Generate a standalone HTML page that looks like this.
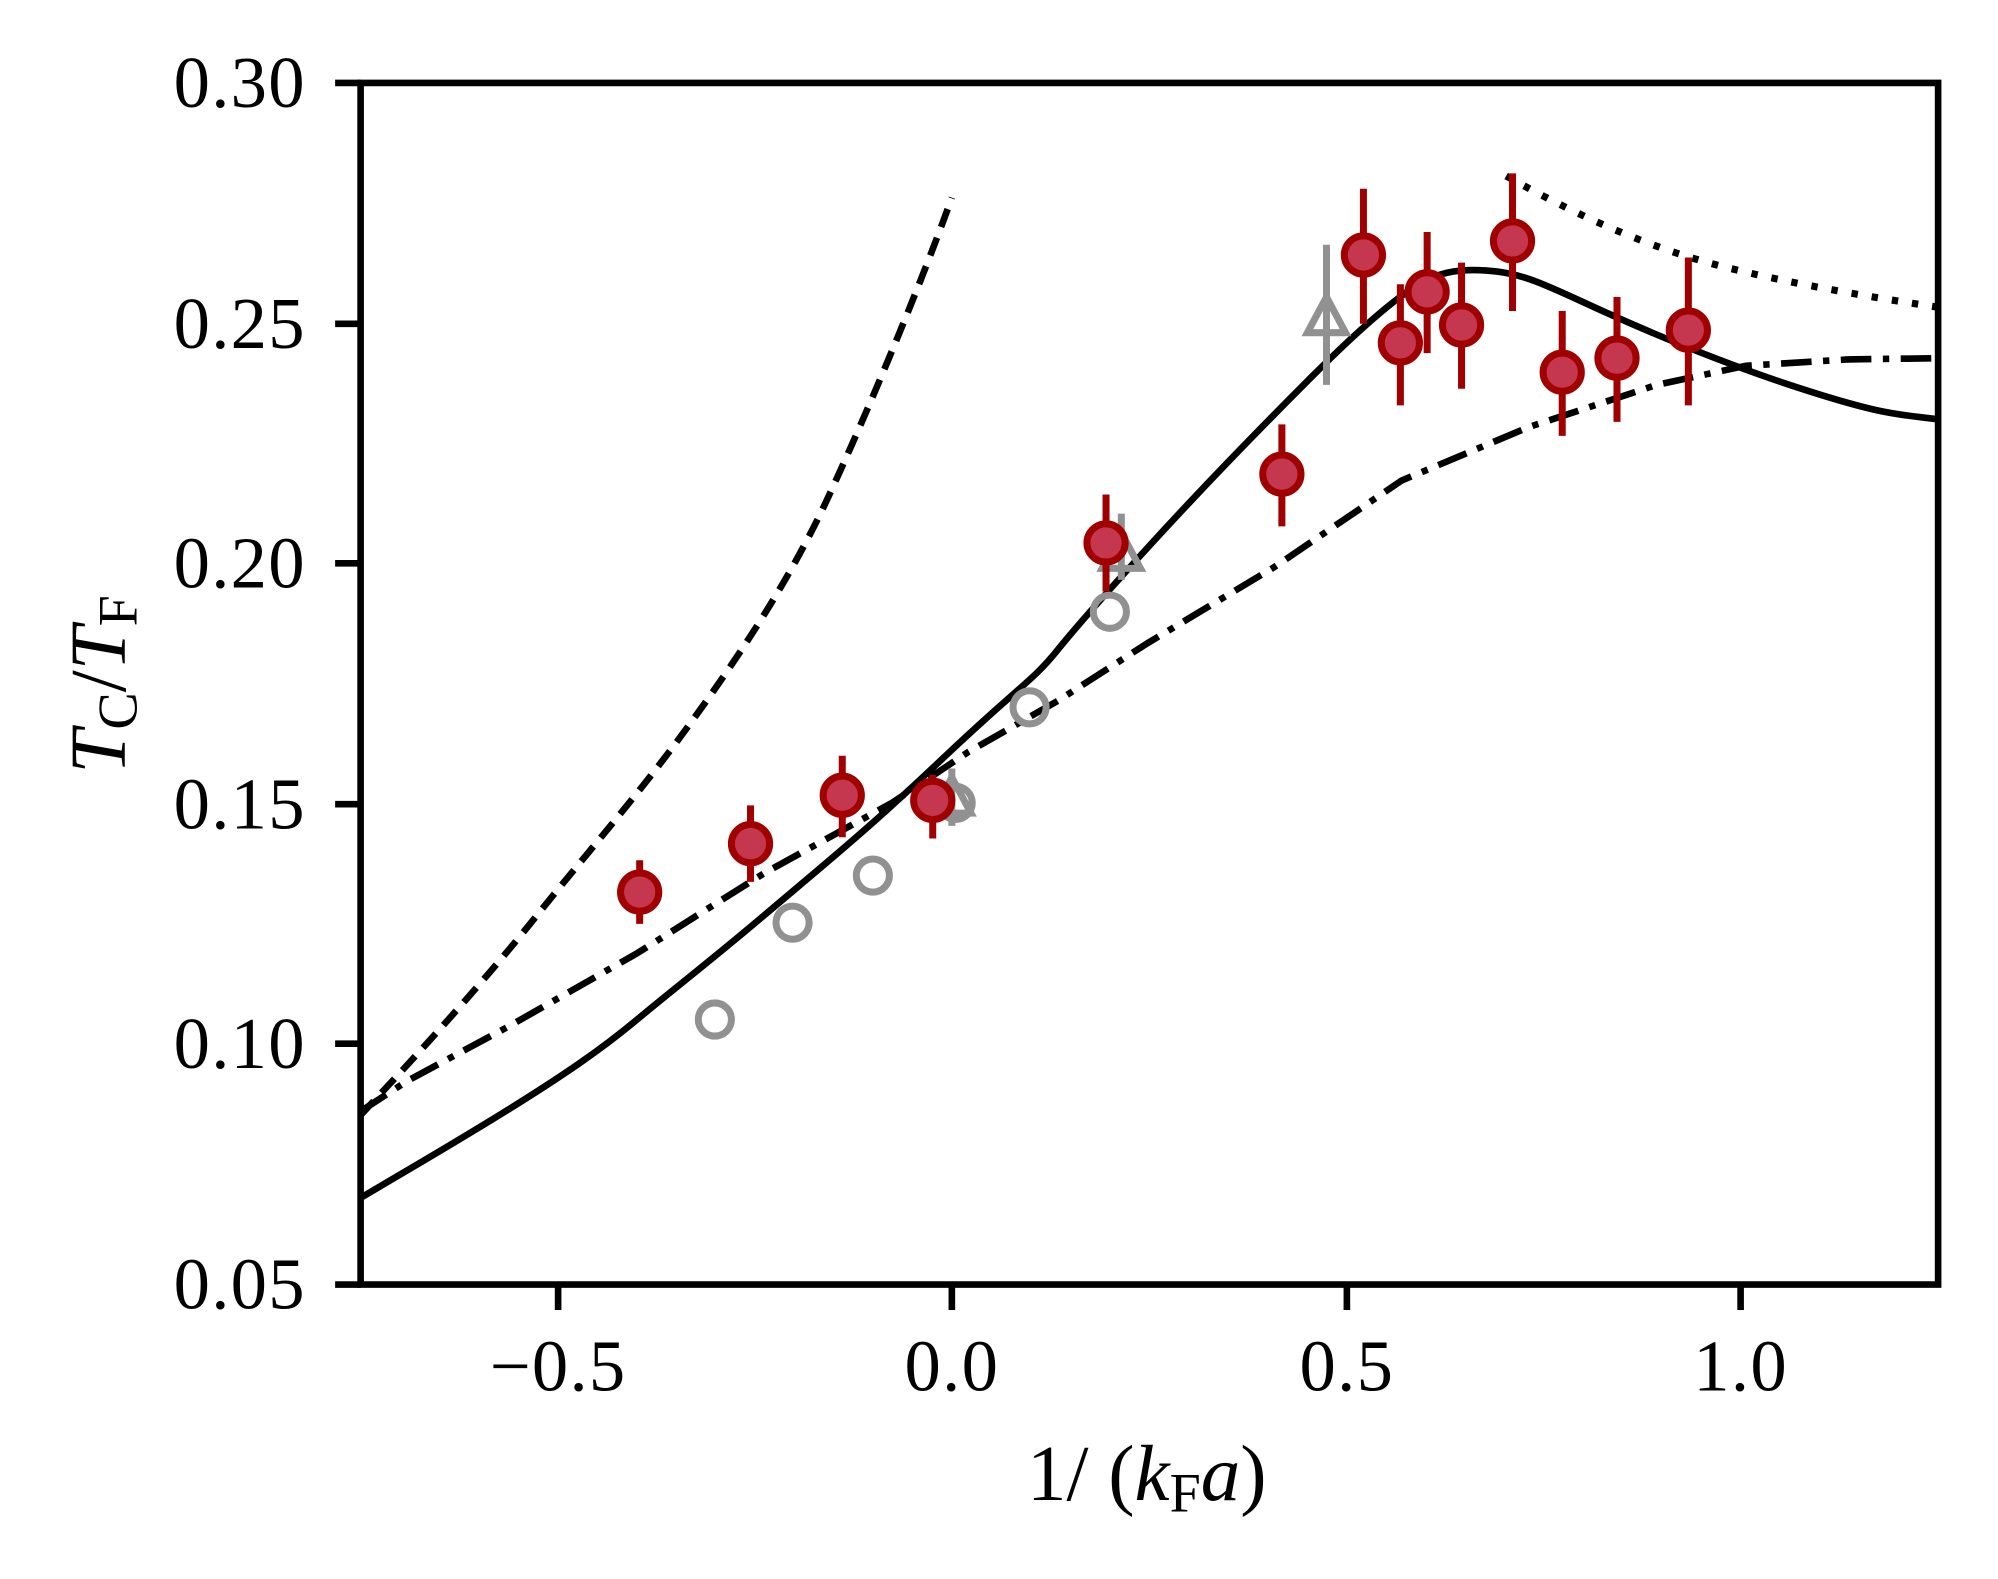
<!DOCTYPE html>
<html><head><meta charset="utf-8"><style>
html,body{margin:0;padding:0;background:#fff;}
svg{display:block;}
text{font-family:"Liberation Serif",serif;fill:#000;}
</style></head><body>
<svg width="1998" height="1579" viewBox="0 0 1568 1239" xmlns="http://www.w3.org/2000/svg">
<rect width="1568" height="1239" fill="#fff"/>
<g fill="none" stroke="#000" stroke-width="5.2" stroke-linejoin="round">
<path stroke-dasharray="15,9" d="M283,875 C330,825 380,770 420,720 S500,625 540,570 S620,455 650,390 S720,230 747,155"/>
<path stroke-dasharray="5,11" stroke-width="5.6" d="M1182,138 C1230,165 1280,188 1330,203 S1460,232 1521,241"/>
<path stroke-dasharray="24,9,5,9" d="M283,872 L320,848 L400,805 L500,748 L600,685 L700,630 L760,590 L830,550 L900,505 L1000,445 L1100,377 L1200,335 L1300,302 L1370,287 L1450,282 L1521,281"/>
<path d="M283,940 C320,918 360,895 400,870 S470,825 500,800 S560,752 600,718 S680,652 740,595 S810,535 830,510 S900,430 930,398 S1000,325 1030,295 S1090,238 1110,225 S1150,210 1175,213 S1220,227 1260,245 S1360,288 1420,307 S1490,325 1521,329"/>
</g>
<g fill="none" stroke="#919191" stroke-width="5.5">
<circle cx="561" cy="800" r="13"/><circle cx="622" cy="724" r="13"/><circle cx="685" cy="687" r="13"/><circle cx="750" cy="630" r="13"/><circle cx="808" cy="555" r="13"/><circle cx="871" cy="480" r="13"/>
</g>
<g fill="none" stroke="#919191" stroke-width="5.5">
<line x1="747" y1="603" x2="747" y2="648"/><polygon points="747,610 732,638 762,638"/>
<line x1="880" y1="403" x2="880" y2="455"/><polygon points="880,418 865,446 895,446"/>
<line x1="1041" y1="192" x2="1041" y2="302"/><polygon points="1041,233 1026,261 1056,261"/>
</g>
<g stroke="#a00000" stroke-width="5.5" fill="#c4374f">
<line x1="502" y1="675" x2="502" y2="725"/><circle cx="502" cy="700" r="15"/>
<line x1="589" y1="632" x2="589" y2="692"/><circle cx="589" cy="662" r="15"/>
<line x1="661" y1="593" x2="661" y2="657"/><circle cx="661" cy="624" r="15"/>
<line x1="732" y1="608" x2="732" y2="658"/><circle cx="732" cy="628" r="15"/>
<line x1="868" y1="388" x2="868" y2="464"/><circle cx="868" cy="426" r="15"/>
<line x1="1006" y1="333" x2="1006" y2="413"/><circle cx="1006" cy="372" r="15"/>
<line x1="1070" y1="148" x2="1070" y2="254"/><circle cx="1070" cy="200" r="15"/>
<line x1="1099" y1="223" x2="1099" y2="318"/><circle cx="1099" cy="269" r="15"/>
<line x1="1120" y1="182" x2="1120" y2="277"/><circle cx="1120" cy="229" r="15"/>
<line x1="1147" y1="206" x2="1147" y2="305"/><circle cx="1147" cy="255" r="15"/>
<line x1="1187" y1="136" x2="1187" y2="244"/><circle cx="1187" cy="189" r="15"/>
<line x1="1226" y1="244" x2="1226" y2="342"/><circle cx="1226" cy="292" r="15"/>
<line x1="1269" y1="233" x2="1269" y2="331"/><circle cx="1269" cy="281" r="15"/>
<line x1="1325" y1="202" x2="1325" y2="318"/><circle cx="1325" cy="259" r="15"/>
</g>
<rect x="283" y="65" width="1238" height="943" fill="none" stroke="#000" stroke-width="5.2"/>
<g stroke="#000" stroke-width="5.2">
<line x1="438" y1="1008" x2="438" y2="1028"/><line x1="747" y1="1008" x2="747" y2="1028"/><line x1="1057" y1="1008" x2="1057" y2="1028"/><line x1="1366" y1="1008" x2="1366" y2="1028"/>
<line x1="263" y1="65" x2="283" y2="65"/><line x1="263" y1="254" x2="283" y2="254"/><line x1="263" y1="442" x2="283" y2="442"/><line x1="263" y1="631" x2="283" y2="631"/><line x1="263" y1="819" x2="283" y2="819"/><line x1="263" y1="1008" x2="283" y2="1008"/>
</g>
<g font-size="57" text-anchor="end" letter-spacing="1">
<text x="240" y="84">0.30</text><text x="240" y="273">0.25</text><text x="240" y="461">0.20</text><text x="240" y="650">0.15</text><text x="240" y="838">0.10</text><text x="240" y="1027">0.05</text>
</g>
<g font-size="57" text-anchor="middle" letter-spacing="1">
<text x="438" y="1091">−0.5</text><text x="747" y="1091">0.0</text><text x="1057" y="1091">0.5</text><text x="1366" y="1091">1.0</text>
</g>
<text x="900" y="1177" font-size="62" text-anchor="middle">1/ (<tspan font-style="italic">k</tspan><tspan font-size="44" dy="9">F</tspan><tspan font-style="italic" dy="-9">a</tspan>)</text>
<g transform="translate(98,537) rotate(-90)">
<text x="0" y="0" font-size="62" text-anchor="middle"><tspan font-style="italic">T</tspan><tspan font-size="44" dy="9">C</tspan><tspan dy="-9">/</tspan><tspan font-style="italic">T</tspan><tspan font-size="44" dy="9">F</tspan></text>
</g>
</svg>
</body></html>
